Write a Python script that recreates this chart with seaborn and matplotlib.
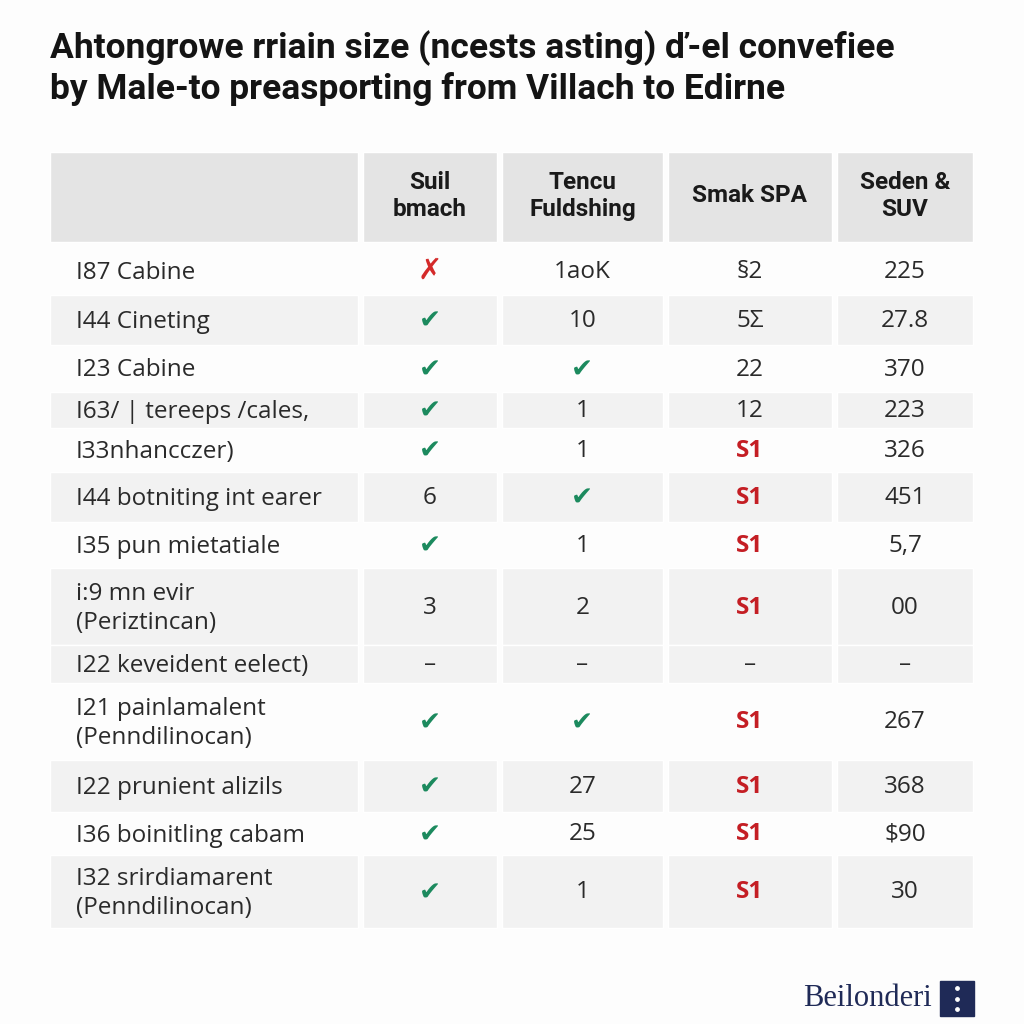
import numpy as np
import pandas as pd
import matplotlib
matplotlib.use("Agg")
import matplotlib.pyplot as plt
import seaborn as sns

sns.set_theme(style="white")
plt.rcParams['font.family'] = ['Open Sans', 'DejaVu Sans']

title = "Ahtongrowe rriain size (ncests asting) ď-el convefiee\nby Male-to preasporting from Villach to Edirne"
headers = ["", "Suil\nbmach", "Tencu\nFuldshing", "Smak SPA", "Seden &\nSUV"]

row_labels = [
    "I87 Cabine", "I44 Cineting", "I23 Cabine", "I63/ | tereeps /cales,",
    "I33nhancczer)", "I44 botniting int earer", "I35 pun mietatiale",
    "i:9 mn evir\n(Periztincan)", "I22 keveident eelect)",
    "I21 painlamalent\n(Penndilinocan)", "I22 prunient alizils",
    "I36 boinitling cabam", "I32 srirdiamarent\n(Penndilinocan)",
]
# "Y" = check, "N" = cross, "S" = red flag value
col_suil = ["N", "Y", "Y", "Y", "Y", "6", "Y", "3", "–", "Y", "Y", "Y", "Y"]
col_tencu = ["1aoK", "10", "Y", "1", "1", "Y", "1", "2", "–", "Y", "27", "25", "1"]
col_smak = ["§2", "5Σ", "22", "12", "S", "S", "S", "S", "–", "S", "S", "S", "S"]
col_seden = ["225", "27.8", "370", "223", "326", "451", "5,7", "00", "–", "267", "368", "$90", "30"]
striped = [False, True, False, True, False, True, False, True, True, False, True, False, True]

# layout (pixel coordinates)
col_left = [50, 363, 502, 668, 837]
col_right = [358, 497, 663, 832, 973]
row_edges = [247, 295, 345, 392, 428, 472, 522, 568, 645, 683, 760, 812, 855, 928]
head_top, head_bot = 152, 242

fig = plt.figure(figsize=(10.24, 10.24), dpi=100)
fig.patch.set_facecolor("#fdfdfd")
ax = fig.add_axes([0, 0, 1, 1])
ax.set_xlim(0, 1024)
ax.set_ylim(1024, 0)
ax.axis("off")

lefts = np.array(col_left)
widths = np.array(col_right) - lefts
centers = lefts + widths / 2

# header cells
ax.barh([(head_top + head_bot) / 2] * 5, widths, left=lefts,
        height=head_bot - head_top, color="#e4e4e4")
for j, h in enumerate(headers):
    if h:
        ax.text(centers[j], (head_top + head_bot) / 2 - 1, h, ha="center", va="center",
                fontsize=17.5, fontweight="bold", color="#1a1a1a",
                family=["Roboto", "DejaVu Sans"], linespacing=1.25)

# body stripes
edges = np.array(row_edges)
mids = (edges[:-1] + edges[1:]) / 2
heights = edges[1:] - edges[:-1]
for i in range(len(row_labels)):
    if striped[i]:
        ax.barh([mids[i]] * 5, widths, left=lefts, height=heights[i], color="#f2f2f2")

df = pd.DataFrame({"label": row_labels, "suil": col_suil, "tencu": col_tencu,
                   "smak": col_smak, "seden": col_seden})

def put(x, y, v):
    if v == "Y":
        ax.text(x, y + 2, "✔", ha="center", va="center", fontsize=19,
                color="#1c8a5e", family=["DejaVu Sans"])
    elif v == "N":
        ax.text(x, y, "✗", ha="center", va="center", fontsize=21,
                color="#d42a2a", fontweight="bold", family=["DejaVu Sans"])
    elif v == "S":
        ax.text(x, y + 1, "S1", ha="center", va="center", fontsize=17.5,
                color="#c41e24", fontweight="bold")
    else:
        ax.text(x, y + 1, v, ha="center", va="center", fontsize=17.5, color="#2a2a2a")

for i, r in df.iterrows():
    y = mids[i]
    ax.text(76, y + 2, r["label"], ha="left", va="center", fontsize=17.5,
            color="#2a2a2a", linespacing=1.3)
    for j, key in enumerate(["suil", "tencu", "smak", "seden"], start=1):
        put(centers[j], y, r[key])

# title
ax.text(50, 68, title, ha="left", va="center", fontsize=25.5, fontweight="bold",
        color="#141414", family=["Roboto", "DejaVu Sans"], linespacing=1.22)

# logo
ax.text(932, 999, "Beilonderi", ha="right", va="center", fontsize=22,
        color="#1f2a57", family=["Liberation Serif", "DejaVu Serif"])
ax.add_patch(plt.Rectangle((940, 981), 34, 35, color="#1f2a57"))
ax.scatter([957, 957, 957], [988, 998.5, 1009], s=6, color="white", zorder=5)

fig.savefig("out.png", dpi=100, facecolor=fig.get_facecolor())
